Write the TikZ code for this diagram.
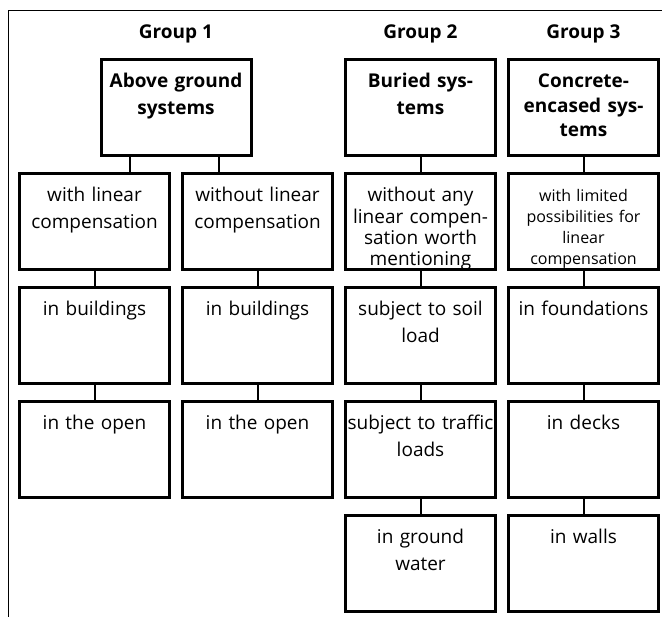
\documentclass[tikz,border=0pt]{standalone}
\usepackage{fontspec}
\setmainfont{Open Sans}
\usetikzlibrary{calc,positioning}

\newcommand{\celltext}{\fontsize{19}{26.5}\selectfont}
\newcommand{\headtext}{\fontsize{19}{26.5}\selectfont\bfseries}

\begin{document}
\begin{tikzpicture}[x=1pt, y=1pt,
    cell/.style={draw, line width=3pt, text width=150pt, inner xsep=0pt, inner ysep=4pt,
      minimum height=96pt, text height=24pt, text depth=64pt, align=center, font=\celltext},
    topcell/.style={cell, font=\headtext},
    grouplabel/.style={font=\headtext},
    link/.style={line width=2pt}]
    \useasboundingbox (0,0) rectangle (662,-617);
    % frame
    \draw[line width=1pt] (662,-11) -- (8,-11) -- (8,-617);

    \node[cell] (withcomp) at (94.5,-222) {with linear\\compensation};
    \node[cell] (nocomp)   [right=10pt of withcomp] {without linear\\compensation};
    \node[cell, font=\fontsize{19}{21.3}\selectfont] (anycomp) [right=10pt of nocomp]
        {without any\\linear compen-\\sation worth\\mentioning};
    \node[cell, font=\fontsize{16}{21}\selectfont] (limited) [right=10pt of anycomp]
        {with limited\\possibilities for\\linear\\compensation};

    \node[topcell] (above)   at (176,-108) {Above ground\\systems};
    \node[topcell] (buried)  [above=15pt of anycomp] {Buried sys-\\tems};
    \node[topcell, font=\fontsize{19}{24.5}\selectfont\bfseries] (encased) [above=15pt of limited]
        {Concrete-\\encased sys-\\tems};

    \node[grouplabel] (grpA) [above=12pt of above]   {Group 1};
    \node[grouplabel] (grpB) [above=12pt of buried]  {Group 2};
    \node[grouplabel] (grpC) [above=12pt of encased] {Group 3};

    \node[cell] (withbuild) [below=15pt of withcomp]  {in buildings};
    \node[cell] (withopen)  [below=15pt of withbuild] {in the open};
    \node[cell] (nobuild)   [below=15pt of nocomp]    {in buildings};
    \node[cell] (noopen)    [below=15pt of nobuild]   {in the open};
    \node[cell] (soil)      [below=15pt of anycomp]   {subject to soil\\load};
    \node[cell] (traffic)   [below=15pt of soil]      {subject to traffic\\loads};
    \node[cell] (water)     [below=15pt of traffic]   {in ground\\water};
    \node[cell] (found)     [below=15pt of limited]   {in foundations};
    \node[cell] (decks)     [below=15pt of found]     {in decks};
    \node[cell] (walls)     [below=15pt of decks]     {in walls};

    \coordinate (splitA) at ($(above.south west)!0.2!(above.south east)$);
    \coordinate (splitB) at ($(above.south west)!0.78!(above.south east)$);
    \draw[link] (splitA) -- (splitA |- withcomp.north);
    \draw[link] (splitB) -- (splitB |- nocomp.north);

    \draw[link] (withcomp) -- (withbuild);
    \draw[link] (withbuild) -- (withopen);
    \draw[link] (nocomp) -- (nobuild);
    \draw[link] (nobuild) -- (noopen);
    \draw[link] (buried) -- (anycomp);
    \draw[link] (anycomp) -- (soil);
    \draw[link] (soil) -- (traffic);
    \draw[link] (traffic) -- (water);
    \draw[link] (encased) -- (limited);
    \draw[link] (limited) -- (found);
    \draw[link] (found) -- (decks);
    \draw[link] (decks) -- (walls);
\end{tikzpicture}
\end{document}
